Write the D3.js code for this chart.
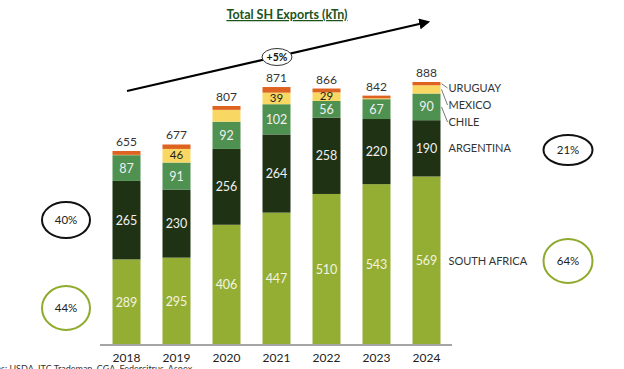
<!DOCTYPE html>
<html><head><meta charset="utf-8">
<script src="https://cdn.jsdelivr.net/npm/d3@7"></script>
<style>
html,body{margin:0;padding:0;background:#fff;overflow:hidden}
text{font-family:Lato,"Noto Sans",sans-serif}
</style></head>
<body><svg id="c" width="624" height="369"></svg>
<script>
const years = ["2018","2019","2020","2021","2022","2023","2024"];
const seriesNames = ["SOUTH AFRICA","ARGENTINA","CHILE","MEXICO","URUGUAY"];
const southAfrica = [289,295,406,447,510,543,569];
const argentina   = [265,230,256,264,258,220,190];
const chile       = [87,91,92,102,56,67,90];
const mexico      = [1,46,40,39,29,3,28];
const uruguay     = [13,15,13,19,13,9,11];
const totals      = [655,677,807,871,866,842,888];
const mexicoLabelShown = [false,true,false,true,true,false,false];
const colors = ["#94ae34","#1f3213","#4e9150","#f8d862","#df6320"];
const shareLeft  = [{label:"40%",series:"ARGENTINA"},{label:"44%",series:"SOUTH AFRICA"}];
const shareRight = [{label:"21%",series:"ARGENTINA"},{label:"64%",series:"SOUTH AFRICA"}];
const growthLabel = "+5%";
const title = "Total SH Exports (kTn)";
const source = "Sources: USDA, ITC Trademap, CGA, Federcitrus, Asoex";

const svg = d3.select("#c");
const x = d3.scaleBand().domain(years).range([101.5,451.5]).paddingInner(0.44).paddingOuter(0.22);
const y = d3.scaleLinear().domain([0,888]).range([345,82]);

const seriesVals = [southAfrica,argentina,chile,mexico,uruguay];
const rows = years.map((yr,i)=>{const o={year:yr}; seriesNames.forEach((s,j)=>o[s]=seriesVals[j][i]); return o;});
const stacked = d3.stack().keys(seriesNames)(rows);

// title
svg.append("text").attr("x",287).attr("y",19).attr("text-anchor","middle")
  .attr("font-size",12.5).attr("font-weight","bold").attr("fill","#1d531d")
  .attr("text-decoration","underline").text(title);

// bars
const g = svg.append("g");
stacked.forEach((layer,j)=>{
  g.selectAll(null).data(layer).enter().append("rect")
    .attr("x",d=>x(d.data.year)).attr("width",x.bandwidth())
    .attr("y",d=>y(d[1])).attr("height",d=>y(d[0])-y(d[1]))
    .attr("fill",colors[j]);
});

// segment labels
[0,1,2,3].forEach(j=>{
  const layer = stacked[j];
  g.selectAll(null).data(layer.filter((d,i)=> j!==3 || mexicoLabelShown[i])).enter().append("text")
    .attr("x",d=>x(d.data.year)+x.bandwidth()/2)
    .attr("y",d=>(y(d[0])+y(d[1]))/2+(j===3?3.5:4.5))
    .attr("text-anchor","middle").attr("font-size",j===3?11.5:12.5)
    .attr("fill", j===3 ? "#222" : (j===0 ? "#f3f3e0" : "#f0f0f0"))
    .text(d=>d.data[seriesNames[j]]);
});

// totals
g.selectAll(null).data(years).enter().append("text")
  .attr("x",d=>x(d)+x.bandwidth()/2).attr("y",(d,i)=>y(totals[i])-5)
  .attr("text-anchor","middle").attr("font-size",12).attr("fill","#333")
  .text((d,i)=>totals[i]);

// axis
const axis = svg.append("g").attr("transform","translate(0,345)")
  .call(d3.axisBottom(x).tickSize(0).tickPadding(8));
axis.select(".domain").attr("stroke","#a5a5a5").attr("stroke-width",2).attr("d","M100,0H452");
axis.selectAll("text").attr("font-size",12).attr("fill","#222").attr("font-family","Lato,sans-serif");

// series labels (right side) from last column
const last = years.length-1;
const lx = x(years[last])+x.bandwidth()+8;
const labelY = {"URUGUAY":88,"MEXICO":105,"CHILE":122};
stacked.forEach((layer,j)=>{
  const name = seriesNames[j];
  const d = layer[last];
  const mid = (y(d[0])+y(d[1]))/2;
  const ly = labelY[name]!==undefined ? labelY[name] : mid;
  svg.append("text").attr("x",lx).attr("y",ly+4).attr("font-size",11).attr("fill","#333").text(name);
  if(labelY[name]!==undefined){
    svg.append("line").attr("x1",x(years[last])+x.bandwidth()+1).attr("y1",mid)
      .attr("x2",lx-1).attr("y2",ly).attr("stroke","#555").attr("stroke-width",0.8);
  }
});

// share ellipses
function ellipse(cx,cy,rx,ry,stroke,label){
  svg.append("ellipse").attr("cx",cx).attr("cy",cy).attr("rx",rx).attr("ry",ry)
    .attr("fill","none").attr("stroke",stroke).attr("stroke-width",2);
  svg.append("text").attr("x",cx).attr("y",cy+4).attr("text-anchor","middle")
    .attr("font-size",11.5).attr("fill","#222").text(label);
}
shareLeft.forEach(s=>{
  const sa = s.series==="SOUTH AFRICA";
  ellipse(66, sa?308:220, 24, sa?22:18, sa?"#8fab2e":"#111", s.label);
});
shareRight.forEach(s=>{
  const sa = s.series==="SOUTH AFRICA";
  ellipse(568, sa?261:150, 24.5, sa?22:15, sa?"#8fab2e":"#111", s.label);
});

// growth arrow
svg.append("defs").append("marker").attr("id","ah").attr("viewBox","0 0 10 10")
  .attr("refX",8).attr("refY",5).attr("markerWidth",5).attr("markerHeight",5).attr("orient","auto")
  .append("path").attr("d","M0,0L10,5L0,10z").attr("fill","#000");
svg.append("line").attr("x1",127).attr("y1",91).attr("x2",428).attr("y2",22)
  .attr("stroke","#000").attr("stroke-width",2.2).attr("marker-end","url(#ah)");
svg.append("ellipse").attr("cx",277).attr("cy",57).attr("rx",15).attr("ry",8.5)
  .attr("fill","#fff").attr("stroke","#333").attr("stroke-width",1);
svg.append("text").attr("x",277).attr("y",61).attr("text-anchor","middle")
  .attr("font-size",10.5).attr("font-weight","bold").attr("fill","#111").text(growthLabel);

// source (partly cut off at bottom, as in the reference)
svg.append("text").attr("x",-26).attr("y",372).attr("font-size",9).attr("fill","#333").text(source);
</script></body></html>
